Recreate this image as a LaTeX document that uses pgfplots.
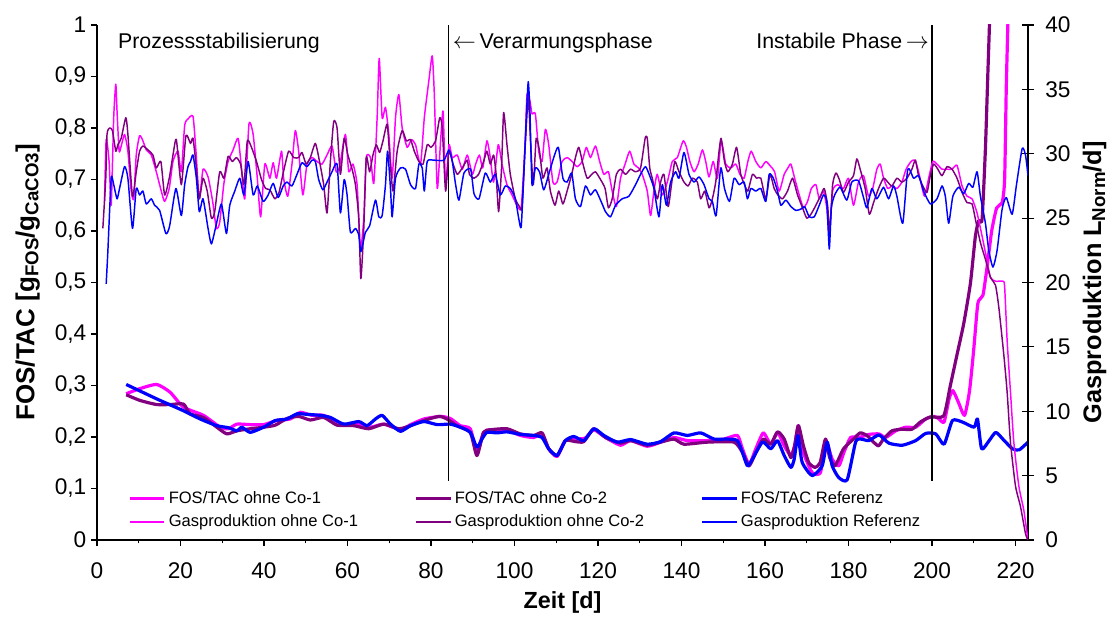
\documentclass[border=0pt]{standalone}
\usepackage{fontspec}
\setmainfont{Liberation Sans}
\usepackage{pgfplots}
\pgfplotsset{compat=1.18}
\definecolor{cmag}{RGB}{255,0,255}
\definecolor{cpur}{RGB}{128,0,128}
\definecolor{cblu}{RGB}{0,0,255}
\newcommand{\sub}[1]{\raisebox{-0.3ex}{\fontsize{14}{14}\selectfont #1}}
\pgfplotsset{
  common/.style={
    scale only axis, width=698.25pt, height=386.25pt,
    xmin=0, xmax=223, no markers,
    tick style={black, line width=0.8pt},
    axis line style={black, line width=1pt},
    /pgf/number format/assume math mode=true,
    tick label style={font=\fontsize{17}{17}\selectfont},
    every axis plot/.append style={smooth, tension=0.35, line join=round},
  },
  fosline/.style={line width=2.4pt},
  gasline/.style={line width=1.1pt},
}
\begin{document}
\begin{tikzpicture}
\path[use as bounding box] (-72.75pt,-57.75pt) rectangle (760.5pt,405pt);
\begin{axis}[common,
  axis x line*=bottom, axis y line*=left,
  ymin=0, ymax=1,
  ytick={0,0.1,0.2,0.3,0.4,0.5,0.6,0.7,0.8,0.9,1},
  xtick={0,20,...,220}, minor xtick={10,30,...,210},
  tick align=outside, major tick length=4.5pt, minor tick length=2.5pt,
  yticklabel style={/pgf/number format/.cd, use comma, fixed, precision=1},
  xticklabel style={yshift=-9pt},
  xlabel={Zeit [d]},
  ylabel={FOS/TAC [g\sub{FOS}/g\sub{CaCO3}]},
  every axis x label/.style={at={(axis description cs:0.5,-0.1217)}, anchor=center, font=\fontsize{17.5}{20}\selectfont\bfseries},
  every axis y label/.style={at={(axis description cs:-0.0745,0.5)}, anchor=center, rotate=90, font=\fontsize{19.5}{22}\selectfont\bfseries},
]
% FOS/TAC ohne Co-1
\addplot[fosline, cmag] coordinates {(7.0,0.284) (10.3,0.294) (14.3,0.302) (17.5,0.287) (20.7,0.258) (25.5,0.242) (29.5,0.219) (31.5,0.216) (33.5,0.225) (36.7,0.224) (39.9,0.224) (43.1,0.232) (46.3,0.235) (48.7,0.248) (51.5,0.242) (54.3,0.242) (59.1,0.224) (62.3,0.225) (65.5,0.219) (68.7,0.225) (72.7,0.214) (75.1,0.224) (78.3,0.235) (82.3,0.240) (84.6,0.236) (87.0,0.222) (89.4,0.216) (91.0,0.173) (92.6,0.209) (94.2,0.214) (96.2,0.210) (98.2,0.214) (101.4,0.203) (104.6,0.199) (106.6,0.206) (108.2,0.177) (110.2,0.162) (112.2,0.193) (115.0,0.196) (117.0,0.198) (119.0,0.214) (121.8,0.199) (125.4,0.184) (127.8,0.193) (131.8,0.182) (135.0,0.190) (138.2,0.199) (141.4,0.193) (146.2,0.193) (150.2,0.196) (153.4,0.203) (154.6,0.177) (156.2,0.147) (157.8,0.177) (159.6,0.208) (161.4,0.186) (163.0,0.209) (164.6,0.183) (166.2,0.164) (167.1,0.183) (168.0,0.222) (169.2,0.170) (171.3,0.131) (173.3,0.131) (174.5,0.193) (176.1,0.157) (177.7,0.144) (178.9,0.170) (180.5,0.199) (182.5,0.199) (184.9,0.205) (187.3,0.206) (188.9,0.199) (191.3,0.212) (193.7,0.219) (196.1,0.219) (198.5,0.235) (200.5,0.240) (201.7,0.235) (202.9,0.229) (204.1,0.274) (205.0,0.290) (206.3,0.268) (207.8,0.242) (209.0,0.290) (210.0,0.370) (211.0,0.460) (212.2,0.475) (213.2,0.530) (214.3,0.600) (215.5,0.645) (216.8,0.655) (217.4,0.700) (217.8,0.880) (218.2,1.010) (218.4,1.100)};
% FOS/TAC ohne Co-2
\addplot[fosline, cpur] coordinates {(7.0,0.282) (10.3,0.271) (14.3,0.263) (17.5,0.263) (20.7,0.264) (22.3,0.245) (25.5,0.238) (28.7,0.219) (31.1,0.206) (33.5,0.212) (36.7,0.216) (39.9,0.219) (42.7,0.223) (45.5,0.236) (48.3,0.240) (51.1,0.233) (54.3,0.238) (57.5,0.223) (61.5,0.222) (65.1,0.216) (68.7,0.225) (72.3,0.216) (75.1,0.222) (78.3,0.232) (81.9,0.240) (83.8,0.235) (86.2,0.222) (89.4,0.209) (91.0,0.164) (92.6,0.209) (94.2,0.214) (98.2,0.216) (101.4,0.206) (104.6,0.203) (106.6,0.208) (108.2,0.177) (110.2,0.164) (112.2,0.193) (114.6,0.191) (116.6,0.191) (119.0,0.216) (121.8,0.199) (125.4,0.188) (127.8,0.193) (131.8,0.184) (135.0,0.190) (138.2,0.196) (140.6,0.186) (146.2,0.190) (152.6,0.190) (154.6,0.170) (156.2,0.144) (157.8,0.170) (159.6,0.196) (161.4,0.186) (163.0,0.210) (164.6,0.196) (166.2,0.160) (167.1,0.183) (168.0,0.222) (169.2,0.183) (170.5,0.150) (172.0,0.141) (173.2,0.150) (174.5,0.196) (175.5,0.160) (176.8,0.144) (178.8,0.177) (181.2,0.196) (182.8,0.208) (184.4,0.203) (186.0,0.190) (187.2,0.183) (188.4,0.196) (190.4,0.212) (192.8,0.215) (195.2,0.215) (197.2,0.229) (199.6,0.239) (202.8,0.241) (204.4,0.300) (206.0,0.360) (207.6,0.420) (209.2,0.498) (210.4,0.590) (211.2,0.620) (212.0,0.623) (212.8,0.760) (213.4,0.910) (213.8,1.010) (214.0,1.100)};
% FOS/TAC Referenz
\addplot[fosline, cblu] coordinates {(7.0,0.302) (14.3,0.274) (20.7,0.251) (24.7,0.235) (28.7,0.222) (31.5,0.218) (33.5,0.212) (34.7,0.219) (36.7,0.209) (39.9,0.219) (42.7,0.232) (45.5,0.235) (47.9,0.245) (50.3,0.244) (53.5,0.242) (55.9,0.238) (59.1,0.225) (62.7,0.230) (64.7,0.222) (66.7,0.235) (68.3,0.242) (70.3,0.225) (72.7,0.211) (75.1,0.222) (78.3,0.230) (81.5,0.224) (84.6,0.225) (87.0,0.219) (89.4,0.209) (91.0,0.180) (92.2,0.196) (93.4,0.209) (95.8,0.208) (98.2,0.210) (101.4,0.205) (104.6,0.203) (106.6,0.199) (108.2,0.177) (110.2,0.164) (112.2,0.193) (114.2,0.201) (116.6,0.193) (119.0,0.216) (121.4,0.203) (124.6,0.190) (127.8,0.195) (131.8,0.186) (135.0,0.191) (138.2,0.208) (141.4,0.203) (144.6,0.208) (147.8,0.196) (151.0,0.196) (153.4,0.193) (154.6,0.170) (155.8,0.144) (157.0,0.157) (159.4,0.190) (161.4,0.177) (163.0,0.193) (164.6,0.164) (166.2,0.141) (167.0,0.157) (167.9,0.203) (168.9,0.151) (171.3,0.125) (173.7,0.144) (174.9,0.190) (176.1,0.144) (177.7,0.121) (179.7,0.117) (181.7,0.190) (182.9,0.196) (184.9,0.193) (187.3,0.204) (189.7,0.188) (192.9,0.184) (196.1,0.193) (198.5,0.207) (200.9,0.206) (202.9,0.186) (204.9,0.232) (207.3,0.229) (210.1,0.219) (210.9,0.235) (211.9,0.177) (213.7,0.193) (215.3,0.209) (217.3,0.193) (219.3,0.177) (220.9,0.175) (223.0,0.190)};
% phase separators
\addplot[black, line width=0.8pt, sharp plot] coordinates {(84.3,0.115) (84.3,1)};
\addplot[black, line width=0.8pt, sharp plot] coordinates {(200,0.115) (200,1)};
\node[anchor=base west, inner sep=0pt, font=\fontsize{16}{18}\selectfont] at (axis cs:5,0.955) {Prozessstabilisierung};
\node[anchor=base west, inner sep=0pt, font=\fontsize{16}{18}\selectfont] at (axis cs:85.2,0.955) {$\leftarrow$\,Verarmungsphase};
\node[anchor=base east, inner sep=0pt, font=\fontsize{16}{18}\selectfont] at (axis cs:199.3,0.955) {Instabile Phase\,$\rightarrow$};
\end{axis}
\begin{axis}[common,
  axis x line=none, axis y line*=right,
  ymin=0, ymax=40, ytick={0,5,...,40},
  tick align=center, major tick length=9pt,
  yticklabel style={xshift=5pt},
  ylabel={Gasproduktion L\sub{Norm}/d]},
  every axis y label/.style={at={(axis description cs:1.0716,0.5)}, anchor=center, rotate=90, font=\fontsize{19}{22}\selectfont\bfseries},
  legend columns=3,
  legend cell align=left,
  legend style={draw=none, fill=none, at={(axis description cs:0.033,0.058)}, anchor=west, inner sep=0pt,
    font=\fontsize{12.4}{14}\selectfont, row sep=3pt,
    /tikz/every even column/.append style={column sep=40pt}},
  legend image code/.code={\draw[#1, sharp plot] (0cm,0cm) -- (0.92cm,0cm);},
]
\addlegendimage{fosline, cmag}
\addlegendentry{FOS/TAC ohne Co-1}
\addlegendimage{fosline, cpur}
\addlegendentry{FOS/TAC ohne Co-2}
\addlegendimage{fosline, cblu}
\addlegendentry{FOS/TAC Referenz}
% Gasproduktion ohne Co-1
\addplot[gasline, cmag] coordinates {(1.8,26.3) (2.2,31.1) (2.9,29.4) (3.4,26.0) (4.0,32.8) (4.5,35.4) (4.8,33.3) (5.3,30.2) (5.8,30.6) (6.6,31.5) (7.4,30.2) (8.2,27.1) (8.8,26.5) (9.4,29.9) (10.2,31.4) (11.0,31.0) (11.8,30.3) (13.0,29.9) (14.2,28.6) (15.4,27.1) (16.2,26.3) (17.3,27.3) (18.2,29.4) (19.4,30.2) (20.2,28.6) (21.0,32.2) (21.8,32.7) (23.0,32.9) (23.7,30.2) (24.5,26.5) (25.4,28.8) (26.6,28.2) (27.7,26.3) (28.6,24.2) (29.4,24.7) (30.4,27.7) (31.4,29.4) (32.6,30.3) (33.8,31.2) (34.6,28.9) (35.4,26.5) (36.4,32.3) (37.4,31.5) (38.4,28.1) (39.2,25.1) (40.2,29.2) (41.4,28.1) (42.2,29.3) (43.0,28.1) (44.2,30.2) (44.7,28.1) (45.7,26.7) (46.7,29.2) (47.5,31.8) (48.3,30.2) (49.3,26.8) (50.3,29.2) (51.5,29.7) (52.7,29.4) (53.9,29.2) (55.1,29.9) (56.3,30.6) (57.3,28.6) (58.1,29.0) (59.5,31.5) (60.3,28.6) (61.3,29.2) (62.3,27.6) (63.1,22.6) (63.9,25.0) (64.5,29.7) (65.5,29.7) (66.3,27.7) (67.1,32.8) (67.6,37.4) (68.3,32.8) (69.1,33.6) (69.9,31.5) (70.7,28.1) (71.5,32.8) (72.3,34.6) (73.1,32.0) (74.3,30.5) (75.3,31.1) (76.3,30.7) (77.5,29.2) (78.4,32.8) (79.5,35.7) (80.3,37.6) (80.8,34.6) (81.5,27.3) (82.3,31.0) (82.9,33.3) (83.5,27.6) (84.3,30.7) (85.1,29.7) (86.3,29.9) (87.5,28.8) (88.7,29.9) (89.9,28.4) (90.7,29.2) (91.6,29.9) (92.4,28.9) (93.4,31.0) (94.2,29.7) (95.0,27.8) (96.1,30.7) (97.0,29.2) (98.2,27.6) (99.4,26.8) (100.6,26.0) (101.6,25.8) (102.5,30.5) (103.0,34.6) (103.7,34.1) (104.2,33.1) (105.0,33.1) (105.8,30.2) (106.6,29.4) (107.4,31.9) (108.2,30.7) (109.2,27.8) (110.2,27.8) (111.4,29.4) (112.6,29.7) (113.8,29.4) (115.0,29.0) (116.2,29.4) (117.2,30.5) (118.2,29.7) (119.4,30.6) (120.4,29.4) (121.4,28.4) (122.5,28.6) (123.4,27.1) (124.4,25.9) (125.4,28.1) (126.5,29.2) (127.6,30.2) (128.6,29.2) (129.7,28.9) (130.6,28.4) (131.8,27.1) (132.6,25.2) (133.4,27.1) (134.2,28.4) (135.4,26.8) (136.6,27.8) (137.8,29.4) (139.0,29.7) (140.4,31.0) (141.2,30.5) (142.0,29.4) (143.0,28.6) (144.0,29.2) (145.0,30.3) (145.8,29.4) (146.6,28.2) (147.6,29.4) (148.6,28.1) (149.5,31.0) (150.6,29.2) (151.8,28.9) (153.0,29.2) (154.0,28.4) (155.0,28.1) (155.9,29.4) (156.7,30.2) (157.8,29.4) (159.0,28.9) (160.2,29.4) (161.4,29.0) (162.3,28.6) (163.4,27.1) (164.6,28.4) (165.5,28.9) (166.2,29.2) (167.1,28.1) (168.2,26.8) (169.2,25.8) (170.2,26.3) (171.1,27.3) (172.2,27.6) (173.0,26.5) (174.0,27.1) (174.8,25.8) (175.4,23.7) (176.2,27.1) (177.4,27.6) (178.8,27.3) (180.0,28.1) (181.2,26.0) (182.4,27.8) (183.6,28.3) (184.8,26.7) (185.8,27.3) (186.8,28.8) (187.6,29.2) (188.4,28.1) (189.4,27.3) (190.4,27.5) (191.6,27.3) (192.8,27.8) (193.8,28.8) (195.0,29.4) (196.0,29.5) (197.0,28.3) (198.2,26.7) (199.2,28.1) (200.2,29.4) (201.2,29.2) (202.4,28.8) (203.6,28.8) (204.8,28.8) (206.0,29.1) (207.2,27.5) (208.4,26.7) (209.6,26.5) (210.8,25.4) (212.0,23.6) (213.0,22.0) (214.0,20.4) (215.2,20.1) (217.0,20.1) (217.4,19.7) (218.0,15.5) (218.8,11.5) (219.6,7.6) (220.8,4.2) (222.0,2.3) (223.0,0)};
\addlegendentry{Gasproduktion ohne Co-1}
% Gasproduktion ohne Co-2
\addplot[gasline, cpur] coordinates {(1.4,24.2) (2.1,28.1) (2.4,31.5) (3.0,32.0) (3.7,31.8) (4.5,30.2) (5.0,30.7) (5.8,31.2) (6.9,32.8) (7.4,31.5) (8.5,26.7) (9.4,28.6) (10.2,30.2) (11.0,30.6) (12.2,30.3) (13.4,29.9) (14.2,28.9) (15.3,29.4) (16.2,26.8) (17.3,28.1) (18.2,29.9) (19.0,31.1) (20.2,27.6) (21.3,31.4) (22.4,30.8) (23.0,31.2) (23.8,28.9) (24.5,26.5) (25.4,28.1) (26.4,27.1) (27.4,25.0) (28.2,25.5) (29.4,28.6) (30.4,28.1) (31.4,29.8) (32.4,29.4) (33.4,29.7) (34.4,29.2) (35.2,27.6) (36.0,31.0) (37.0,30.5) (38.2,29.4) (39.4,28.0) (40.4,27.3) (41.4,27.2) (42.6,26.5) (43.6,27.0) (44.6,28.5) (45.9,30.2) (47.1,29.7) (48.3,29.7) (49.1,30.1) (50.1,29.2) (51.1,29.7) (52.3,30.8) (53.3,29.4) (54.3,27.6) (55.1,25.4) (55.9,29.4) (56.7,32.5) (57.5,32.0) (58.3,28.4) (59.2,31.2) (60.1,29.9) (61.1,28.8) (61.9,27.6) (62.7,25.0) (63.2,20.3) (63.9,24.2) (64.5,29.7) (65.3,28.6) (66.1,29.9) (66.9,30.7) (67.7,30.1) (68.5,31.0) (69.5,32.3) (70.1,29.9) (70.9,27.1) (71.9,30.2) (73.1,31.8) (74.1,31.0) (75.1,31.1) (76.0,30.2) (77.1,29.4) (78.1,29.2) (79.1,30.7) (80.0,30.5) (81.1,31.0) (82.1,32.8) (82.7,32.0) (83.5,27.1) (84.3,30.2) (85.3,29.2) (86.3,28.4) (87.5,28.9) (88.7,29.5) (89.2,28.4) (90.3,28.1) (91.4,28.4) (92.6,29.4) (93.4,30.2) (94.2,29.2) (95.0,29.9) (95.6,28.4) (96.2,25.5) (96.9,28.9) (97.4,33.2) (98.2,30.7) (99.0,28.4) (100.2,26.5) (101.2,25.9) (101.8,25.8) (102.5,30.2) (103.3,34.4) (103.8,31.2) (104.5,27.6) (105.2,31.2) (106.0,30.2) (106.8,28.1) (107.8,28.9) (108.6,27.1) (109.7,26.0) (110.6,27.1) (111.6,26.1) (112.6,27.1) (113.7,28.4) (114.6,29.7) (115.4,30.5) (116.4,29.2) (117.4,28.1) (118.5,28.4) (119.4,28.6) (120.6,28.0) (121.7,27.3) (122.5,25.8) (123.4,26.5) (124.4,28.4) (125.4,28.8) (126.6,28.4) (127.8,28.8) (129.0,28.6) (130.2,28.9) (131.3,31.2) (131.8,31.2) (132.4,28.9) (133.0,28.1) (134.2,26.5) (135.0,27.8) (135.8,28.4) (136.8,25.9) (137.6,27.6) (138.4,29.4) (139.4,28.6) (140.6,27.8) (141.6,27.5) (142.6,28.1) (143.8,27.8) (144.6,26.5) (145.6,27.1) (146.6,25.8) (147.4,26.5) (148.2,27.8) (149.0,30.2) (149.5,31.2) (150.3,29.4) (151.1,28.6) (152.2,29.2) (153.2,30.5) (154.2,28.4) (155.1,27.6) (155.9,27.1) (157.0,28.4) (158.0,28.1) (159.0,28.1) (160.2,26.5) (161.2,28.4) (162.2,27.3) (163.1,26.8) (164.2,26.5) (165.4,27.1) (166.6,28.1) (167.8,26.8) (169.0,25.8) (170.0,25.0) (171.0,25.3) (172.2,26.0) (173.4,26.8) (174.2,27.3) (175.0,26.0) (175.5,23.9) (176.2,27.6) (177.0,28.5) (177.8,28.0) (178.8,27.0) (180.0,27.8) (181.2,28.3) (182.0,29.6) (182.8,28.8) (184.0,27.3) (185.0,25.3) (186.0,26.2) (187.2,27.3) (188.4,28.1) (189.4,27.8) (190.4,27.5) (191.6,28.1) (192.8,27.8) (194.0,28.1) (195.2,28.8) (196.0,29.5) (196.8,28.3) (197.8,27.5) (198.8,27.0) (199.6,28.3) (200.4,29.2) (201.4,28.8) (202.4,28.3) (203.6,29.0) (204.8,28.8) (206.0,28.1) (207.2,27.0) (208.4,26.2) (209.6,26.1) (210.6,24.6) (211.6,23.1) (212.8,21.8) (214.0,20.4) (215.2,19.8) (216.0,18.1) (217.2,14.4) (218.0,11.5) (218.8,7.6) (220.0,4.2) (221.2,2.6) (222.4,0.5) (223.0,0)};
\addlegendentry{Gasproduktion ohne Co-2}
% Gasproduktion Referenz
\addplot[gasline, cblu] coordinates {(2.2,19.9) (2.6,22.4) (3.4,28.1) (4.0,27.6) (4.8,26.5) (5.4,27.3) (6.6,29.0) (7.4,28.1) (8.5,24.2) (9.4,27.3) (10.2,26.8) (11.0,27.1) (11.8,26.1) (13.0,26.5) (13.8,26.0) (15.0,25.6) (16.5,23.8) (17.4,24.4) (18.9,27.3) (20.2,25.2) (21.0,27.6) (21.8,29.0) (22.4,29.4) (23.0,29.9) (23.8,28.1) (24.5,25.5) (25.4,26.5) (26.6,24.2) (27.4,23.0) (28.5,24.4) (29.8,26.1) (31.0,23.8) (31.8,26.0) (33.0,27.1) (34.2,28.1) (35.2,26.8) (36.2,29.4) (37.4,26.8) (38.4,27.5) (39.8,26.3) (41.0,26.8) (42.2,27.7) (43.4,26.6) (44.6,27.5) (45.5,27.8) (46.7,27.5) (47.9,28.4) (49.1,29.3) (50.3,29.0) (51.5,29.5) (52.3,29.4) (53.1,28.0) (54.1,27.2) (55.1,27.8) (56.3,28.6) (57.5,29.2) (58.3,25.4) (59.2,28.0) (59.9,26.8) (60.7,23.9) (61.9,24.2) (62.7,23.7) (63.2,22.4) (64.3,23.9) (65.3,24.4) (66.7,26.4) (67.5,25.1) (68.3,25.2) (69.1,27.6) (69.6,30.2) (70.3,27.3) (70.7,25.1) (71.5,28.1) (72.7,28.9) (73.9,28.8) (75.1,27.6) (76.3,27.3) (77.1,29.2) (77.9,28.9) (78.4,27.1) (79.1,29.4) (80.7,29.5) (83.1,29.5) (84.3,30.3) (85.1,29.4) (85.9,27.6) (86.7,26.4) (87.9,28.5) (89.5,28.8) (90.3,26.9) (91.5,26.5) (93.0,28.5) (94.2,27.8) (95.4,28.4) (96.6,26.8) (97.8,27.5) (99.0,27.3) (100.2,26.5) (101.0,25.0) (101.6,24.3) (102.2,28.1) (102.9,33.3) (103.3,35.6) (103.7,33.3) (104.2,27.6) (105.0,28.9) (106.0,28.6) (107.0,27.2) (108.2,28.4) (109.4,29.7) (110.5,30.5) (111.6,28.1) (112.6,27.8) (113.7,28.5) (114.6,26.5) (115.8,25.9) (117.0,27.5) (118.2,26.8) (119.4,27.2) (121.0,26.1) (121.8,25.5) (123.0,25.1) (124.2,26.0) (125.8,26.5) (127.4,26.7) (129.0,27.6) (130.2,28.4) (131.4,29.0) (132.6,28.1) (133.4,27.3) (134.6,25.1) (135.4,27.6) (136.4,26.0) (137.4,27.8) (138.6,28.6) (139.4,28.1) (140.6,30.1) (141.8,28.4) (143.0,27.8) (144.2,28.2) (145.4,27.6) (146.6,26.5) (147.4,26.3) (148.3,25.2) (149.4,28.9) (150.3,27.3) (151.5,26.3) (152.6,28.1) (153.8,27.6) (155.0,27.8) (155.8,26.5) (156.6,27.3) (157.8,27.1) (159.0,27.3) (160.2,26.3) (161.0,28.4) (162.0,28.1) (163.0,27.1) (163.8,26.0) (165.0,26.4) (166.2,25.9) (167.4,25.6) (168.6,25.7) (169.5,25.9) (170.6,25.1) (171.8,25.1) (173.0,26.0) (174.0,26.8) (174.8,26.3) (175.4,22.6) (175.9,25.8) (176.7,26.8) (178.0,27.4) (179.6,26.4) (180.8,27.8) (182.4,27.9) (183.6,26.6) (184.4,25.8) (185.6,27.3) (186.8,26.5) (188.4,27.4) (189.6,26.5) (190.8,27.5) (191.6,26.7) (193.0,24.6) (194.2,28.8) (195.6,28.1) (196.8,28.3) (198.0,27.1) (199.6,26.1) (201.2,26.5) (202.4,27.5) (203.2,26.7) (204.0,24.6) (205.0,26.7) (206.4,27.4) (207.6,26.9) (208.8,27.7) (209.8,27.4) (210.8,28.6) (211.6,26.7) (212.8,24.6) (213.6,22.5) (214.6,21.2) (215.6,22.5) (216.8,25.7) (217.8,26.6) (219.2,25.3) (220.2,27.5) (221.6,30.4) (222.4,29.9) (223.0,28.3)};
\addlegendentry{Gasproduktion Referenz}
\end{axis}
\end{tikzpicture}
\end{document}
